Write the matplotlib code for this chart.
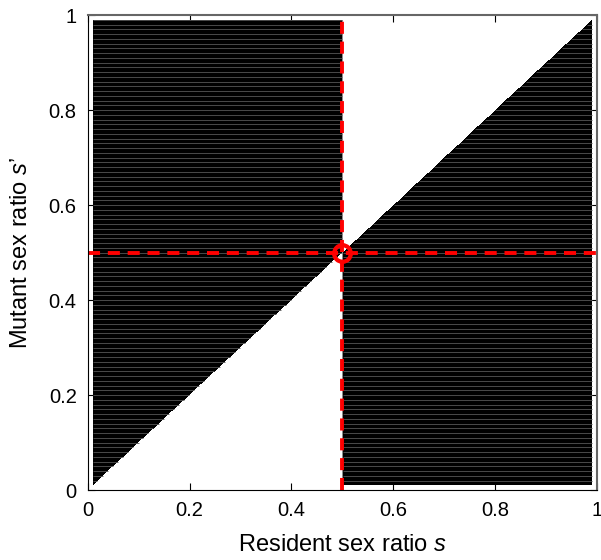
import matplotlib
matplotlib.use("Agg")
import matplotlib.pyplot as plt
import numpy as np
from matplotlib.colors import ListedColormap
from matplotlib.collections import LineCollection

plt.rcParams["font.family"] = ["Liberation Sans", "DejaVu Sans"]
plt.rcParams["mathtext.fontset"] = "custom"
plt.rcParams["mathtext.it"] = "Liberation Sans:italic"
plt.rcParams["mathtext.rm"] = "Liberation Sans"

# data -----------------------------------------------------------------
s_star = 0.5                                        # singular strategy
s_fine = np.linspace(0.01, 0.99, 981)               # fine grid for shading
s_rows = np.round(np.arange(0.02, 0.9901, 0.01), 2) # grid rows of the computation
ticks = [0, 0.2, 0.4, 0.6, 0.8, 1]
tick_labels = ["0", "0.2", "0.4", "0.6", "0.8", "1"]


def invades(s, s_mut):
    # mutant invades where (s' - s) * (s* - s) > 0
    return (s_mut - s) * (s_star - s) > 0


S, M = np.meshgrid(s_fine, s_fine)
field = invades(S, M).astype(float)

fig = plt.figure(figsize=(6.01, 5.6), dpi=100)
ax = fig.add_axes([0.146, 0.125, 0.847, 0.848])

ax.pcolormesh(s_fine, s_fine, field, cmap=ListedColormap(["white", "black"]),
              vmin=0, vmax=1, shading="nearest")

# faint grid rows inside the black regions
segs = []
for y in s_rows:
    row = invades(s_fine, y)
    inside = False
    for j in range(len(row)):
        if row[j] and not inside:
            x0 = s_fine[j]
            inside = True
        if not row[j] and inside:
            segs.append([(x0, y), (s_fine[j - 1], y)])
            inside = False
    if inside:
        segs.append([(x0, y), (s_fine[-1], y)])
ax.add_collection(LineCollection(segs, colors="#555555", linewidths=0.6))
ax.plot([s_star, s_star], [0.01, 0.99], color="#777777", lw=0.6)

# singular strategy lines
ax.plot([s_star, s_star], [0, 1], color="red", lw=2.8, ls=(0, (3.1, 2.0)))
ax.plot([0, 1], [s_star, s_star], color="red", lw=2.8, ls=(0, (3.1, 2.0)))
ax.plot(s_star, s_star, "o", ms=12, mfc="none", mec="red", mew=3.0)

ax.set_xlim(0, 1)
ax.set_ylim(0, 1)
ax.set_xticks(ticks)
ax.set_xticklabels(tick_labels, fontsize=14.5)
ax.set_yticks(ticks)
ax.set_yticklabels(tick_labels, fontsize=14.5)
ax.tick_params(direction="in", top=True, right=True, length=5, pad=8)
ax.spines["top"].set_color("#666666")
ax.spines["right"].set_color("#666666")
ax.spines["top"].set_linewidth(1.5)
ax.spines["right"].set_linewidth(1.5)
ax.set_xlabel(r"Resident sex ratio $s$", fontsize=17, labelpad=10)
ax.set_ylabel(r"Mutant sex ratio $s$’", fontsize=17, labelpad=12)

fig.savefig("out.png", dpi=100)
